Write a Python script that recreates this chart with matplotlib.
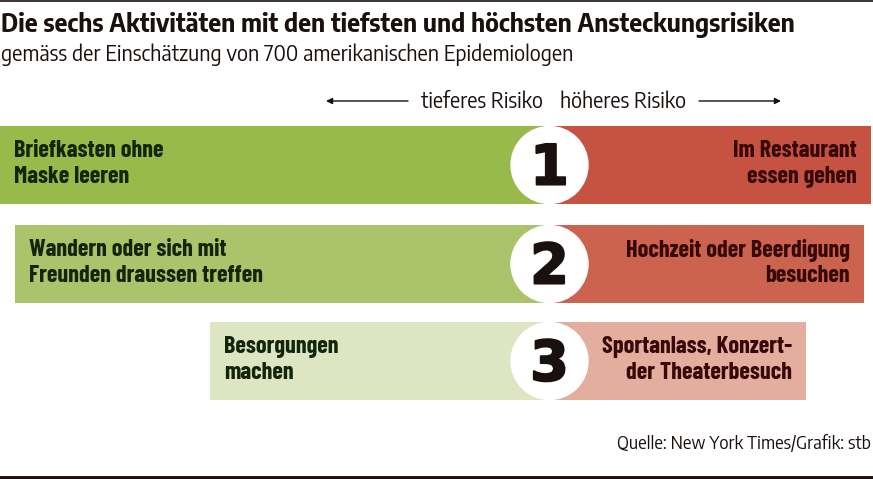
import matplotlib
matplotlib.use("Agg")
import matplotlib.pyplot as plt
import matplotlib.patheffects as pe
from matplotlib.patches import Circle

ranks = ["1", "2", "3"]
low_labels = ["Briefkasten ohne\nMaske leeren",
              "Wandern oder sich mit\nFreunden draussen treffen",
              "Besorgungen\nmachen"]
high_labels = ["Im Restaurant\nessen gehen",
               "Hochzeit oder Beerdigung\nbesuchen",
               "Sportanlass, Konzert-\nder Theaterbesuch"]
low_values = [549, 534, 339]
high_values = [322, 315, 257]

low_colors = ["#97ba4b", "#abc46b", "#dde5c3"]
high_colors = ["#c65341", "#cc634e", "#e3ae9e"]

title = "Die sechs Aktivitäten mit den tiefsten und höchsten Ansteckungsrisiken"
subtitle = "gemäss der Einschätzung von 700 amerikanischen Epidemiologen"
source = "Quelle: New York Times/Grafik: stb"

TITLE_FONT = ["Encode Sans Semi Condensed", "Liberation Sans", "DejaVu Sans"]
LABEL_FONT = ["Barlow Condensed", "Liberation Sans", "DejaVu Sans"]
CENTER = 549
ROW_Y = [165, 264, 361]
BAR_H = 78
DARK = "#1a100d"

fig = plt.figure(figsize=(8.73, 4.79), dpi=100)
ax = fig.add_axes([0, 0, 1, 1])
ax.set_xlim(0, 873)
ax.set_ylim(479, 0)
ax.axis("off")

# top rule and bottom band
ax.axhline(0.5, color=DARK, lw=1.2)
ax.axhline(477.5, color=DARK, lw=3.5)

ax.text(1, 25, title, family=TITLE_FONT, weight="bold", fontsize=17.9, color=DARK, va="center")
ax.text(1, 55, subtitle, family=TITLE_FONT, fontsize=15.3, color=DARK, va="center")

ax.text(543, 102, "tieferes Risiko", family=TITLE_FONT, fontsize=15.2, color=DARK, ha="right", va="center")
ax.text(560, 102, "höheres Risiko", family=TITLE_FONT, fontsize=15.2, color=DARK, ha="left", va="center")
ax.annotate("", xy=(326, 101), xytext=(408, 101),
            arrowprops=dict(arrowstyle="-|>", color=DARK, lw=1, mutation_scale=9, shrinkA=0, shrinkB=0))
ax.annotate("", xy=(781, 101), xytext=(699, 101),
            arrowprops=dict(arrowstyle="-|>", color=DARK, lw=1, mutation_scale=9, shrinkA=0, shrinkB=0))

ax.barh(ROW_Y, [-v for v in low_values], left=CENTER, height=BAR_H, color=low_colors)
ax.barh(ROW_Y, high_values, left=CENTER, height=BAR_H, color=high_colors)

for i, y in enumerate(ROW_Y):
    ax.add_patch(Circle((CENTER + 0.5, y), 38.5, color="white", zorder=3))
    ax.text(CENTER + 0.5, y + 19.5, ranks[i], weight="bold", fontsize=40, color=DARK,
            ha="center", va="baseline", zorder=4,
            path_effects=[pe.withStroke(linewidth=1.5, foreground=DARK)])
    ax.text(CENTER - low_values[i] + 14, y - 1, low_labels[i], family=LABEL_FONT, weight="bold",
            fontsize=17.4, color="#13260c", va="center", linespacing=1.2)
    ax.text(CENTER + high_values[i] - 14, y - 1, high_labels[i], family=LABEL_FONT, weight="bold",
            fontsize=17.4, color="#360808", ha="right", va="center", linespacing=1.2)

ax.text(871, 444, source, family=TITLE_FONT, fontsize=12.75, color=DARK, ha="right", va="center")

fig.savefig("out.png", dpi=100)
